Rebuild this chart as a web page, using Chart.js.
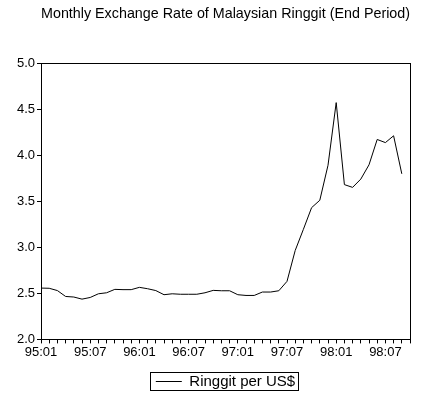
<!DOCTYPE html>
<html>
<head>
<meta charset="utf-8">
<script src="https://cdn.jsdelivr.net/npm/chart.js@4.4.0/dist/chart.umd.min.js"></script>
<style>
  html, body { margin: 0; padding: 0; background: #fff; }
</style>
</head>
<body>
<canvas id="chart" width="423" height="404"></canvas>
<script>
const ctx = document.getElementById("chart");

// month labels 95:01 .. 98:10
const years = ["95", "96", "97", "98"];
const months = ["01", "02", "03", "04", "05", "06", "07", "08", "09", "10", "11", "12"];
const labels = [];
for (let y = 0; y < years.length; y++) {
  for (let m = 0; m < months.length; m++) {
    if (years[y] == "98" && m > 9) break;
    labels.push(years[y] + ":" + months[m]);
  }
}

// end of period rate (98:10 has no value)
const ringgit = [
  2.557, 2.555, 2.53, 2.466, 2.46, 2.437, 2.455, 2.495, 2.506, 2.543, 2.54, 2.54,
  2.565, 2.55, 2.53, 2.485, 2.495, 2.49, 2.49, 2.49, 2.506, 2.532, 2.528, 2.528,
  2.485, 2.477, 2.477, 2.514, 2.514, 2.528, 2.63, 2.965, 3.195, 3.43, 3.51, 3.89,
  4.57, 3.68, 3.65, 3.74, 3.895, 4.17, 4.136, 4.21, 3.797, null
];

const shownLabels = ["95:01", "95:07", "96:01", "96:07", "97:01", "97:07", "98:01", "98:07"];

const fontFam = "'Liberation Sans', Arial, sans-serif";

// frame round the plot and round the legend
const framePlugin = {
  id: "frame",
  afterDraw(chart) {
    const c = chart.ctx;
    const a = chart.chartArea;
    c.save();
    c.strokeStyle = "#000";
    c.lineWidth = 1;
    c.strokeRect(Math.round(a.left) + 0.5, Math.round(a.top) + 0.5,
      Math.round(a.right - a.left), Math.round(a.bottom - a.top));
    const hb = chart.legend.legendHitBoxes[0];
    if (hb) {
      c.strokeRect(Math.round(hb.left) - 5.5, Math.round(hb.top) - 1.5,
        Math.round(hb.width) + 9, Math.round(hb.height) + 3);
    }
    c.restore();
  },
};

new Chart(ctx, {
  type: "line",
  data: {
    labels: labels,
    datasets: [
      {
        label: "Ringgit per US$",
        data: ringgit,
        borderColor: "#000",
        backgroundColor: "#000",
        borderWidth: 1,
        pointRadius: 0,
        tension: 0,
        spanGaps: false,
      },
    ],
  },
  options: {
    responsive: false,
    animation: false,
    layout: { padding: { left: 0, right: 13, top: 0, bottom: 5 } },
    plugins: {
      title: {
        display: true,
        text: "Monthly Exchange Rate of Malaysian Ringgit (End Period)",
        color: "#000",
        fullSize: false,
        font: { family: fontFam, size: 15, weight: "normal" },
        padding: { top: 5, bottom: 40 },
      },
      legend: {
        position: "bottom",
        fullSize: false,
        labels: {
          color: "#000",
          font: { family: fontFam, size: 15 },
          usePointStyle: true,
          pointStyle: "line",
          pointStyleWidth: 26,
          boxHeight: 1,
          padding: 10,
        },
      },
      tooltip: { enabled: false },
    },
    scales: {
      x: {
        offset: false,
        grid: { drawOnChartArea: false, tickLength: 4, color: "#000" },
        border: { color: "#000" },
        afterFit: function (scale) {
          scale.height += 3;
        },
        ticks: {
          autoSkip: false,
          maxRotation: 0,
          color: "#000",
          padding: 1,
          font: { family: fontFam, size: 13 },
          callback: function (v, i) {
            const l = labels[i];
            return shownLabels.includes(l) ? l : "";
          },
        },
      },
      y: {
        min: 2,
        max: 5,
        grid: { drawOnChartArea: false, tickLength: 4, color: "#000" },
        border: { color: "#000" },
        afterFit: function (scale) {
          scale.width = 41;
        },
        ticks: {
          stepSize: 0.5,
          color: "#000",
          padding: 2,
          font: { family: fontFam, size: 13 },
          callback: (v) => v.toFixed(1),
        },
      },
    },
  },
  plugins: [framePlugin],
});
</script>
</body>
</html>
